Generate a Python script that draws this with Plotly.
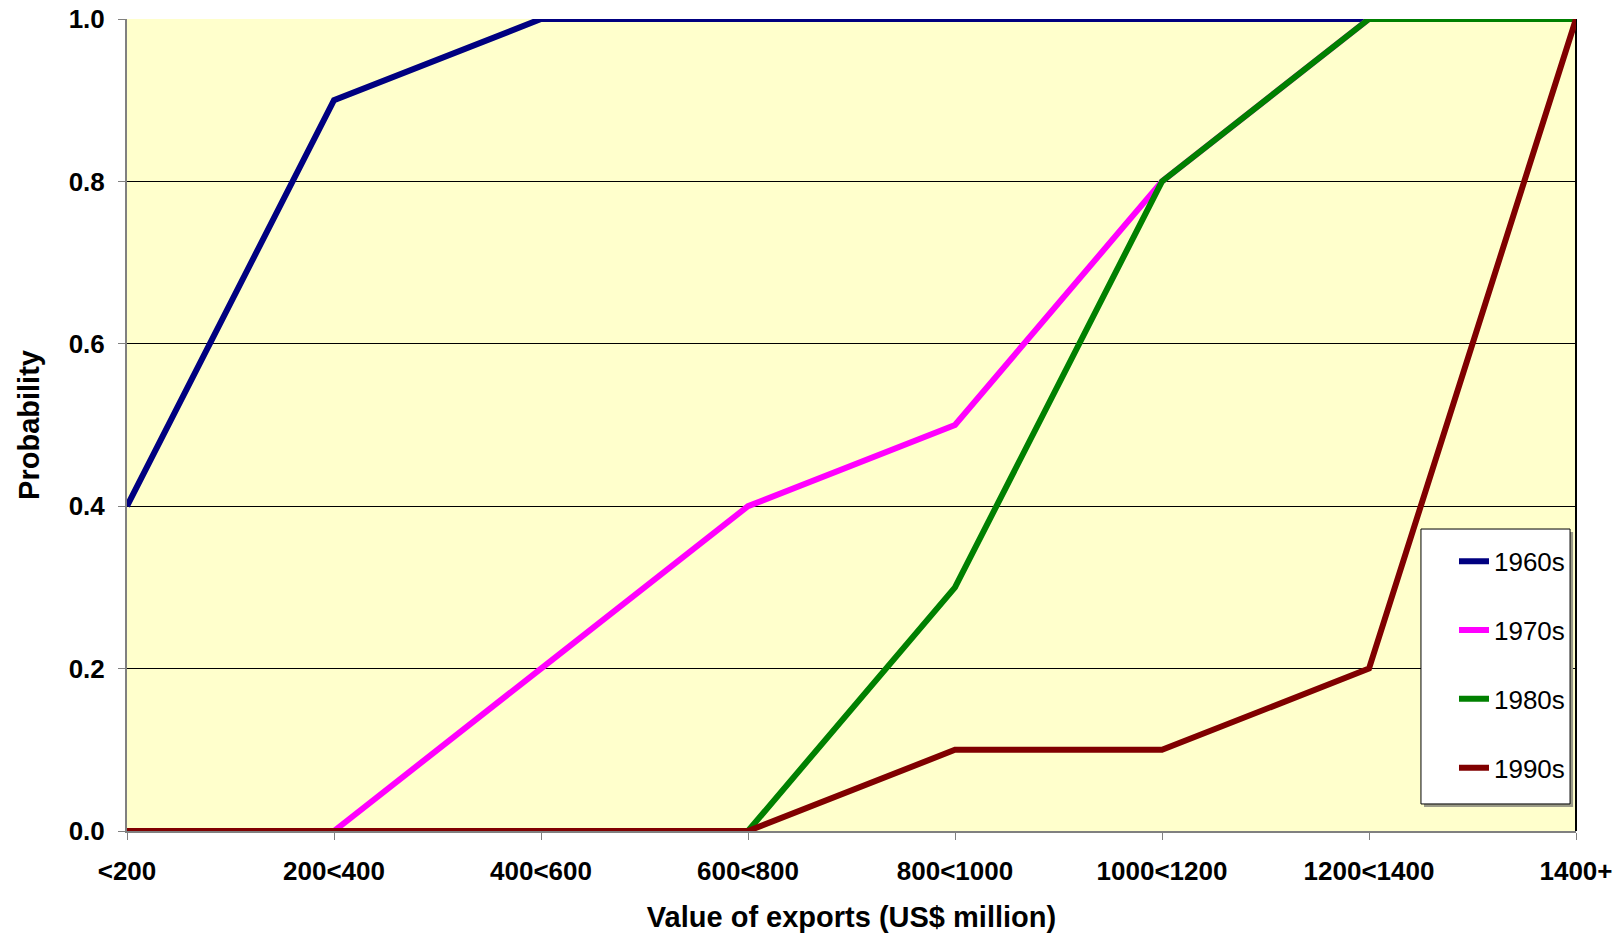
import plotly.graph_objects as go

categories = ["<200", "200<400", "400<600", "600<800", "800<1000", "1000<1200", "1200<1400", "1400+"]
series_names = ["1960s", "1970s", "1980s", "1990s"]
s1960 = [0.4, 0.9, 1.0, 1.0, 1.0, 1.0, 1.0, 1.0]
s1970 = [0.0, 0.0, 0.2, 0.4, 0.5, 0.8, 1.0, 1.0]
s1980 = [0.0, 0.0, 0.0, 0.0, 0.3, 0.8, 1.0, 1.0]
s1990 = [0.0, 0.0, 0.0, 0.0, 0.1, 0.1, 0.2, 1.0]
y_ticks = [0.0, 0.2, 0.4, 0.6, 0.8, 1.0]

colors = ["#000080", "#FF00FF", "#008000", "#800000"]
xs = list(range(len(categories)))

fig = go.Figure()
for name, vals, col in zip(series_names, [s1960, s1970, s1980, s1990], colors):
    fig.add_trace(go.Scatter(x=xs, y=vals, mode="lines", name=name, legendgroup=name,
                             line=dict(color=col, width=6), cliponaxis=False))

font_family = "Liberation Sans, Arial, sans-serif"
fig.update_layout(
    width=1618, height=936,
    margin=dict(l=127, r=42, t=19, b=105, autoexpand=False),
    paper_bgcolor="white",
    plot_bgcolor="#FFFFCC",
    font=dict(family=font_family, color="black"),
    showlegend=True,
    legend=dict(x=0.9158, y=0.361, xanchor="left", yanchor="top",
                bgcolor="rgba(0,0,0,0)", borderwidth=0,
                font=dict(size=26, family=font_family, color="black"),
                traceorder="grouped", tracegroupgap=32, itemwidth=30),
)
fig.update_xaxes(
    range=[0, len(categories) - 1], tickmode="array", tickvals=xs, ticktext=categories,
    tickfont=dict(size=26, family=font_family, weight="bold"),
    showgrid=False, zeroline=False, showline=True, linecolor="#808080", linewidth=2,
    ticks="outside", ticklen=7, tickcolor="#808080", tickwidth=1, ticklabelstandoff=9,
    title=dict(text="Value of exports (US$ million)", font=dict(size=29, weight="bold"), standoff=21),
    automargin=False, mirror=False,
)
fig.update_yaxes(
    range=[0, 1], tickmode="array", tickvals=y_ticks, ticktext=[f"{v:.1f}" for v in y_ticks],
    tickfont=dict(size=26, family=font_family, weight="bold"),
    showgrid=True, gridcolor="black", gridwidth=1, zeroline=False,
    showline=True, linecolor="#808080", linewidth=2,
    ticks="outside", ticklen=7, tickcolor="#808080", tickwidth=1, ticklabelstandoff=8,
    title=dict(text="Probability", font=dict(size=29, weight="bold"), standoff=20),
    automargin=False,
)
# right border of plot area
fig.add_shape(type="line", xref="paper", yref="paper", x0=1, x1=1, y0=0, y1=1,
              line=dict(color="black", width=2), layer="below")
# legend box with shadow
fig.add_shape(type="rect", xref="paper", yref="paper", x0=0.8951, x1=0.9980, y0=0.0296, y1=0.3682,
              line=dict(width=0), fillcolor="#9A9A88", layer="above")
fig.add_shape(type="rect", xref="paper", yref="paper", x0=0.8930, x1=0.9959, y0=0.0333, y1=0.3719,
              line=dict(color="black", width=1), fillcolor="white", layer="above")

fig.write_html("out.html", config={"displayModeBar": False},
               post_script="document.body.style.margin='0';")
